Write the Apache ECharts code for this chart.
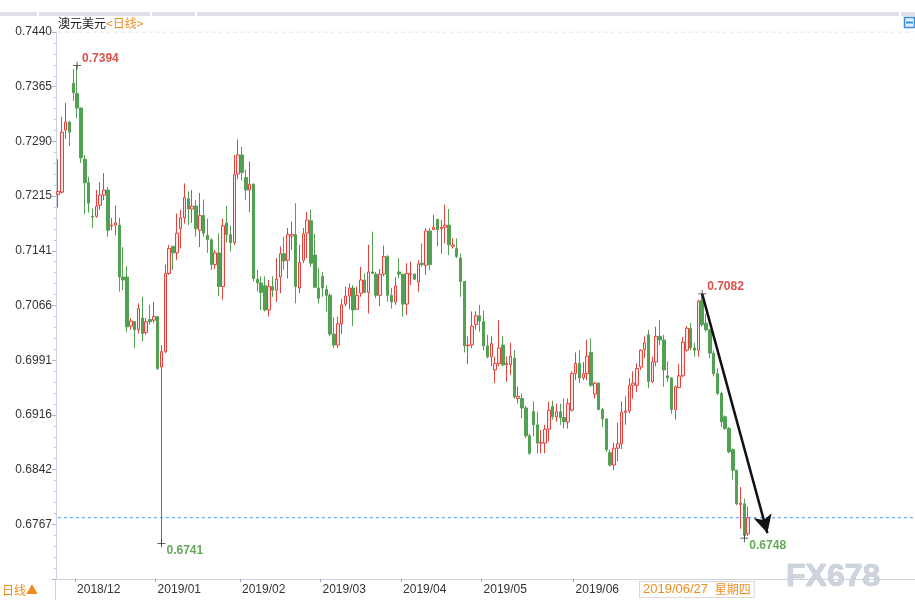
<!DOCTYPE html>
<html><head><meta charset="utf-8">
<script src="https://cdn.jsdelivr.net/npm/echarts@6/dist/echarts.min.js"></script>
<style>html,body{margin:0;padding:0;background:#fff}#c{width:915px;height:613px}</style>
</head><body><div id="c"></div>
<script>
const opens = [
0.7218,0.7221,0.7306,0.7317,0.7370,0.7356,0.7336,0.7266,0.7234,0.7188,
0.7188,0.7203,0.7217,0.7224,0.7175,0.7176,0.7176,0.7105,0.7105,0.7038,
0.7044,0.7033,0.7049,0.7029,0.7047,0.7046,0.7051,0.6982,0.7003,0.7110,
0.7147,0.7138,0.7171,0.7186,0.7212,0.7198,0.7202,0.7169,0.7189,0.7162,
0.7156,0.7122,0.7138,0.7092,0.7179,0.7163,0.7152,0.7246,0.7272,0.7241,
0.7224,0.7232,0.7102,0.7097,0.7093,0.7060,0.7092,0.7087,0.7105,0.7137,
0.7128,0.7161,0.7163,0.7090,0.7128,0.7165,0.7182,0.7135,0.7090,0.7106,
0.7088,0.7080,0.7027,0.7012,0.7041,0.7068,0.7079,0.7090,0.7061,0.7083,
0.7101,0.7084,0.7112,0.7109,0.7080,0.7109,0.7133,0.7080,0.7071,0.7112,
0.7109,0.7068,0.7109,0.7109,0.7098,0.7124,0.7121,0.7168,0.7170,0.7184,
0.7171,0.7173,0.7176,0.7147,0.7144,0.7131,0.7099,0.7011,0.7012,0.7040,
0.7052,0.7044,0.7011,0.6996,0.6978,0.6987,0.7012,0.6985,0.6985,0.6994,
0.6939,0.6939,0.6926,0.6888,0.6921,0.6903,0.6878,0.6878,0.6897,0.6928,
0.6914,0.6921,0.6913,0.6907,0.6923,0.6973,0.6987,0.6967,0.6973,0.7002,
0.6945,0.6960,0.6924,0.6911,0.6865,0.6848,0.6871,0.6877,0.6920,0.6922,
0.6957,0.6957,0.6982,0.7006,0.7026,0.6962,0.6989,0.7024,0.7019,0.6970,
0.6967,0.6924,0.6954,0.6970,0.7005,0.7035,0.7008,0.7005,0.7073,0.7042,
0.7033,0.7001,0.6973,0.6946,0.6914,0.6898,0.6869,0.6841,0.6794,0.6795,
0.6754];
const closes = [
0.7222,0.7303,0.7317,0.7303,0.7357,0.7336,0.7268,0.7234,0.7206,0.7187,
0.7202,0.7217,0.7224,0.7169,0.7176,0.7179,0.7105,0.7101,0.7037,0.7045,
0.7033,0.7062,0.7028,0.7044,0.7044,0.7051,0.6980,0.7003,0.7110,0.7144,
0.7138,0.7165,0.7186,0.7214,0.7198,0.7202,0.7171,0.7189,0.7165,0.7156,
0.7122,0.7138,0.7092,0.7175,0.7163,0.7152,0.7245,0.7272,0.7248,0.7224,
0.7232,0.7103,0.7097,0.7084,0.7060,0.7092,0.7087,0.7102,0.7137,0.7127,
0.7163,0.7163,0.7092,0.7125,0.7164,0.7183,0.7124,0.7091,0.7076,0.7090,
0.7080,0.7027,0.7012,0.7041,0.7067,0.7079,0.7090,0.7060,0.7080,0.7101,
0.7084,0.7112,0.7110,0.7080,0.7109,0.7133,0.7080,0.7071,0.7093,0.7109,
0.7068,0.7110,0.7110,0.7102,0.7123,0.7122,0.7168,0.7122,0.7173,0.7170,
0.7173,0.7176,0.7149,0.7149,0.7133,0.7099,0.7011,0.7012,0.7038,0.7052,
0.7045,0.7011,0.6996,0.7014,0.6987,0.7008,0.6985,0.6987,0.6997,0.6941,
0.6942,0.6926,0.6888,0.6864,0.6903,0.6878,0.6879,0.6897,0.6923,0.6914,
0.6921,0.6913,0.6907,0.6932,0.6973,0.6987,0.6967,0.6973,0.6997,0.6957,
0.6960,0.6924,0.6911,0.6869,0.6848,0.6871,0.6877,0.6920,0.6922,0.6957,
0.6960,0.6980,0.7005,0.7015,0.6962,0.6989,0.7024,0.7019,0.6978,0.6967,
0.6924,0.6955,0.6970,0.7016,0.7035,0.7008,0.7005,0.7072,0.7040,0.7033,
0.7001,0.6973,0.6946,0.6907,0.6898,0.6866,0.6841,0.6795,0.6796,0.6752,
0.6776];
const lows = [
0.7200,0.7219,0.7294,0.7284,0.7346,0.7322,0.7261,0.7191,0.7193,0.7172,
0.7186,0.7197,0.7210,0.7160,0.7169,0.7162,0.7085,0.7087,0.7030,0.7033,
0.7008,0.7028,0.7017,0.7026,0.7040,0.7042,0.6978,0.6741,0.7001,0.7108,
0.7115,0.7128,0.7144,0.7178,0.7176,0.7179,0.7160,0.7146,0.7160,0.7138,
0.7115,0.7116,0.7079,0.7074,0.7152,0.7140,0.7149,0.7239,0.7237,0.7210,
0.7194,0.7099,0.7085,0.7060,0.7058,0.7051,0.7078,0.7071,0.7083,0.7115,
0.7103,0.7142,0.7069,0.7083,0.7124,0.7131,0.7119,0.7090,0.7069,0.7078,
0.7058,0.7024,0.7008,0.7008,0.7027,0.7065,0.7061,0.7038,0.7060,0.7078,
0.7083,0.7055,0.7109,0.7076,0.7065,0.7106,0.7071,0.7062,0.7067,0.7103,
0.7051,0.7053,0.7094,0.7101,0.7085,0.7119,0.7108,0.7115,0.7169,0.7147,
0.7137,0.7151,0.7135,0.7144,0.7131,0.7078,0.7002,0.6986,0.7008,0.7033,
0.7030,0.7005,0.6994,0.6983,0.6960,0.6983,0.6983,0.6962,0.6971,0.6939,
0.6932,0.6912,0.6885,0.6862,0.6887,0.6864,0.6864,0.6864,0.6880,0.6910,
0.6907,0.6903,0.6898,0.6898,0.6921,0.6964,0.6960,0.6964,0.6964,0.6955,
0.6939,0.6923,0.6900,0.6866,0.6846,0.6841,0.6853,0.6870,0.6903,0.6919,
0.6939,0.6948,0.6978,0.6994,0.6953,0.6960,0.6983,0.7012,0.6955,0.6962,
0.6918,0.6910,0.6953,0.6968,0.7003,0.7005,0.6996,0.6996,0.7037,0.7030,
0.6994,0.6969,0.6944,0.6900,0.6896,0.6864,0.6828,0.6793,0.6761,0.6748,
0.6751];
const highs = [
0.7266,0.7324,0.7343,0.7318,0.7389,0.7394,0.7337,0.7272,0.7242,0.7199,
0.7224,0.7235,0.7247,0.7228,0.7186,0.7203,0.7186,0.7146,0.7120,0.7049,
0.7045,0.7069,0.7078,0.7049,0.7067,0.7071,0.7051,0.7012,0.7122,0.7149,
0.7147,0.7192,0.7197,0.7233,0.7222,0.7224,0.7210,0.7220,0.7211,0.7185,
0.7158,0.7142,0.7165,0.7185,0.7202,0.7175,0.7272,0.7293,0.7283,0.7252,
0.7263,0.7233,0.7115,0.7106,0.7106,0.7101,0.7106,0.7131,0.7147,0.7160,
0.7172,0.7181,0.7206,0.7149,0.7172,0.7194,0.7197,0.7164,0.7117,0.7112,
0.7094,0.7083,0.7050,0.7051,0.7075,0.7092,0.7096,0.7094,0.7092,0.7119,
0.7110,0.7149,0.7167,0.7112,0.7116,0.7148,0.7135,0.7090,0.7105,0.7131,
0.7109,0.7124,0.7126,0.7110,0.7128,0.7151,0.7172,0.7172,0.7190,0.7184,
0.7183,0.7204,0.7198,0.7158,0.7158,0.7137,0.7099,0.7024,0.7058,0.7058,
0.7067,0.7059,0.7026,0.7024,0.6996,0.7046,0.7024,0.6996,0.7015,0.7005,
0.6955,0.6946,0.6929,0.6891,0.6935,0.6921,0.6896,0.6903,0.6935,0.6936,
0.6932,0.6932,0.6939,0.6939,0.6976,0.7002,0.7005,0.6989,0.7019,0.7021,
0.6962,0.6961,0.6926,0.6912,0.6869,0.6878,0.6906,0.6935,0.6942,0.6967,
0.6976,0.6987,0.7006,0.7024,0.7033,0.6996,0.7037,0.7046,0.7026,0.6990,
0.6968,0.6957,0.6986,0.7023,0.7038,0.7042,0.7015,0.7074,0.7082,0.7055,
0.7033,0.7005,0.6980,0.6948,0.6916,0.6900,0.6871,0.6841,0.6818,0.6802,
0.6791];

// x axis: month start slots and labels
const monthTickIdx = [5, 26, 48, 69, 90, 111, 135];
const monthLabels = ['2018/12','2019/01','2019/02','2019/03','2019/04','2019/05','2019/06'];
const slotCount = 224;
// y axis tick labels, bottom to top
const yTickLabels = ['', '0.6767','0.6842','0.6916','0.6991','0.7066','0.7141','0.7215','0.7290','0.7365','0.7440'];
const yMin = 0.669222, yMax = 0.7440, yStep = 0.0074778;
// annotated extremes (index into data)
const maxIdx = [5, 168];
const minIdx = [27, 179];
// trend arrow: from high index to target slot/value
const arrowFrom = [168, 0.7082];
const arrowTo = [185, 0.6755];

const UP = '#e5423b', DOWN = '#52a152';
const categories = Array.from({length: slotCount}, (_, i) => String(i));
const candles = opens.map((o, i) => [o, closes[i], lows[i], highs[i]]);
const lastClose = closes[closes.length - 1];

const crossSym = 'path://M0,4.5L10,4.5L10,5.5L0,5.5Z M4.5,0L5.5,0L5.5,10L4.5,10Z';
const mp = [];
maxIdx.forEach(i => mp.push({coord: [i, highs[i]], value: highs[i],
  label: {color: '#e0504a', offset: [0, -7]}}));
minIdx.forEach(i => mp.push({coord: [i, lows[i]], value: lows[i],
  label: {color: '#62aa55', offset: [0, 7]}}));

// horizontal guide drawn as a flat line series across all slots
function guideSeries(v, color, dash) {
  return {
    type: 'line', silent: true, symbol: 'none', z: 1,
    data: [[0, v], [slotCount - 1, v]],
    lineStyle: {color: color, width: 1, type: dash},
    emphasis: {disabled: true}
  };
}

const chart = echarts.init(document.getElementById('c'), null, {renderer: 'canvas'});
chart.setOption({
  animation: false,
  backgroundColor: '#fff',
  grid: {left: 56, right: 0, top: 32, bottom: 34, containLabel: false},
  xAxis: {
    type: 'category', data: categories, boundaryGap: true,
    axisLine: {show: true, lineStyle: {color: '#c9d2de'}},
    axisTick: {show: true, interval: (i) => monthTickIdx.includes(i), length: 3, lineStyle: {color: '#9aa6b5'}},
    axisLabel: {
      interval: (i) => monthTickIdx.includes(i),
      formatter: (v) => { const k = monthTickIdx.indexOf(Number(v)); return k >= 0 ? monthLabels[k] : ''; },
      align: 'left', color: '#333', fontSize: 12, margin: 5,
      fontFamily: '"Liberation Sans", Arial, sans-serif'
    },
    splitLine: {show: false}
  },
  yAxis: {
    type: 'value', min: yMin, max: yMax, interval: yStep, position: 'left',
    axisLine: {show: true, lineStyle: {color: '#c9d2de'}},
    axisTick: {show: true, length: 4, lineStyle: {color: '#a9b6c6'}},
    minorTick: {show: true, splitNumber: 5, length: 2, lineStyle: {color: '#b9c5d4'}},
    axisLabel: {
      showMinLabel: false,
      formatter: (v) => { const k = Math.round((v - yMin) / yStep); return yTickLabels[k] || ''; },
      color: '#333', fontSize: 12, margin: 4,
      fontFamily: '"Liberation Sans", Arial, sans-serif'
    },
    splitLine: {show: false}
  },
  series: [
    guideSeries(yMax, '#dcdcdc', [4, 3]),
    guideSeries(lastClose, '#3d97f5', [3, 3]),
    {
    type: 'candlestick',
    data: candles,
    barWidth: 3,
    z: 3,
    itemStyle: {color: '#fde6e6', color0: DOWN, borderColor: UP, borderColor0: DOWN, borderColorDoji: UP, borderWidth: 1},
    emphasis: {disabled: true},
    markPoint: {
      symbol: crossSym, symbolSize: 8, silent: true,
      itemStyle: {color: '#333'},
      label: {show: true, position: 'right', distance: 1, fontSize: 12, fontWeight: 'bold',
        fontFamily: '"Liberation Sans", Arial, sans-serif',
        formatter: (p) => Number(p.value).toFixed(4)},
      data: mp
    },
    markLine: {
      silent: true, symbol: ['none', 'arrow'], symbolSize: [14, 18], label: {show: false},
      lineStyle: {color: '#111', width: 2.5, type: 'solid'},
      emphasis: {disabled: true},
      data: [[{coord: arrowFrom}, {coord: arrowTo}]]
    }
  }],
  graphic: [
    {type: 'rect', silent: true, shape: {x: 0, y: 12, width: 915, height: 4}, style: {fill: '#dfe1e7'}},
    {type: 'rect', silent: true, shape: {x: 37, y: 12, width: 2, height: 4}, style: {fill: '#fff'}},
    {type: 'rect', silent: true, shape: {x: 150, y: 12, width: 2, height: 4}, style: {fill: '#fff'}},
    {type: 'rect', silent: true, shape: {x: 195, y: 12, width: 2, height: 4}, style: {fill: '#fff'}},
    {type: 'rect', silent: true, shape: {x: 899, y: 12, width: 2, height: 4}, style: {fill: '#fff'}},
    {type: 'text', silent: true, x: 58, y: 17, style: {
      text: '{a|澳元美元}{b|<日线>}',
      rich: {
        a: {fill: '#222', font: '12px "Noto Sans CJK SC", sans-serif'},
        b: {fill: '#f08c1e', font: '12px "Noto Sans CJK SC", sans-serif'}
      }}},
    {type: 'rect', silent: true, shape: {x: 904.5, y: 17.5, width: 10, height: 10}, style: {fill: '#e6f0fb', stroke: '#3d8ee0', lineWidth: 1.5}},
    {type: 'rect', silent: true, shape: {x: 906, y: 21.5, width: 7, height: 2}, style: {fill: '#3d8ee0'}},
    {type: 'line', silent: true, shape: {x1: 55.5, y1: 579, x2: 55.5, y2: 600}, style: {stroke: '#c9d2de', lineWidth: 1}},
    {type: 'text', silent: true, x: 2, y: 584, style: {text: '日线▲', fill: '#f08c1e', font: '12px "Noto Sans CJK SC", sans-serif'}},
    {type: 'text', silent: true, z: 100, x: 640, y: 582, style: {
      text: '{d|2019/06/27}  {w|星期四}',
      rich: {
        d: {fill: '#f08c1e', font: '13px "Liberation Sans", Arial, sans-serif'},
        w: {fill: '#f08c1e', font: '12px "Noto Sans CJK SC", sans-serif'}
      },
      backgroundColor: '#fff', borderColor: '#d9d9d9', borderWidth: 1, padding: [1, 3, 1, 3]}},
    {type: 'text', silent: true, z: 100, x: 786, y: 561, style: {
      text: 'FX678', fill: '#cdd4de', stroke: '#a8b2c1', lineWidth: 0.6,
      font: 'bold 32px "Liberation Sans", Arial, sans-serif'}}
  ]
});
</script>
</body></html>
